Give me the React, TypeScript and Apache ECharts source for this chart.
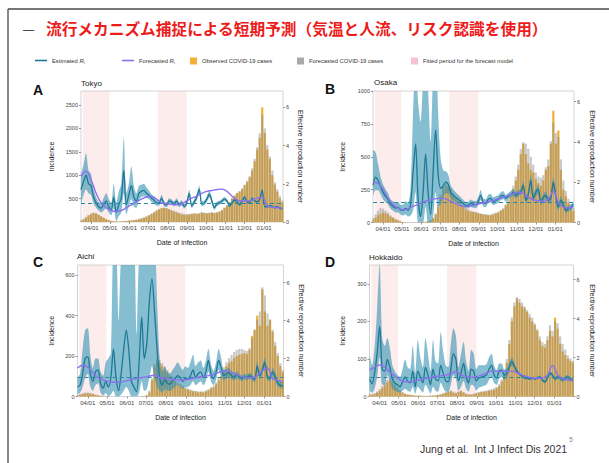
import { useEffect, useRef } from 'react';
import * as echarts from 'echarts';

// ---------- categories (daily dates) ----------
function buildDates(start: string, end: string): string[] {
  const out: string[] = [];
  const d = new Date(start + 'T00:00:00Z');
  const e = new Date(end + 'T00:00:00Z');
  while (d.getTime() <= e.getTime()) {
    out.push(d.toISOString().slice(0, 10));
    d.setUTCDate(d.getUTCDate() + 1);
  }
  return out;
}
const DATES = buildDates('2020-03-16', '2021-01-31');
const STEP = 4; // observations every 4 days
const FC_STEP = 8; // forecasted Rt every 8 days
const FITTED_PERIODS = [
  ['2020-03-19', '2020-04-30'],
  ['2020-07-16', '2020-08-31'],
];

// ---------- Tokyo ----------
const TOKYO_OBS = [20,50,90,140,170,190,180,150,120,90, 60,40,25,15,10,8,10,15,20,25, 30,35,45,55,70,90,110,140,170,200, 240,270,290,300,290,270,240,220,200,180, 160,150,150,160,170,180,170,180,200,190, 180,190,200,190,200,220,250,300,350,420, 500,560,620,650,700,780,850,950,1100,1300, 1550,1800,2450,1900,1550,1350,1000,800,650,500, 420];
const TOKYO_FCST = [40,70,110,150,180,200,190,160,120,90, 60,40,25,18,12,10,12,18,25,30, 35,45,55,70,85,100,125,150,180,215, 250,280,300,310,300,280,260,240,220,200, 185,175,170,175,180,190,185,190,210,200, 195,200,210,200,210,230,260,310,360,430, 510,570,620,660,720,800,880,980,1150,1350, 1600,1900,2300,2000,1650,1400,1100,850,700,560, 460];
const TOKYO_RT = [1.7,2.1,2.45,2.0,1.9,1.3,1.0,0.8,0.73,0.9, 1.1,0.8,0.65,1.3,0.5,0.9,1.25,2.7,0.9,1.4, 1.9,1.3,1.1,1.5,1.6,1.65,1.5,1.4,1.25,1.15, 1.0,1.0,1.25,0.95,0.9,1.1,1.05,0.95,1.1,0.9, 1.0,0.82,1.0,1.5,0.85,1.05,1.3,1.7,0.95,1.0, 1.2,1.45,1.1,0.75,0.95,1.0,1.1,1.2,1.1,0.85, 1.0,1.15,1.05,0.9,1.1,1.3,1.05,1.0,1.25,1.1, 1.05,1.2,1.65,0.8,0.8,0.85,0.8,0.75,0.8,0.72, 0.7];
const TOKYO_RT_LO = [0.9,1.4,1.7,1.5,1.4,0.95,0.75,0.6,0.5,0.6, 0.7,0.5,0.35,0.7,0.05,0.3,0.5,1.5,0.4,0.8, 1.2,0.8,0.75,1.15,1.3,1.35,1.25,1.2,1.05,0.98, 0.85,0.86,1.08,0.82,0.78,0.96,0.92,0.82,0.96,0.78, 0.86,0.7,0.86,1.3,0.72,0.9,1.12,1.5,0.82,0.87, 1.05,1.28,0.96,0.64,0.83,0.89,1.0,1.09,1.0,0.76, 0.91,1.06,0.97,0.83,1.03,1.22,0.98,0.94,1.18,1.04, 0.99,1.13,1.55,0.74,0.74,0.79,0.74,0.69,0.74,0.66, 0.64];
const TOKYO_RT_HI = [2.5,3.0,3.6,2.7,2.5,1.7,1.3,1.05,1.0,1.25, 1.5,1.2,1.0,2.0,1.0,1.6,2.0,4.4,1.5,2.0, 2.9,1.9,1.5,1.9,1.95,2.0,1.8,1.65,1.45,1.32, 1.15,1.14,1.42,1.08,1.02,1.24,1.18,1.08,1.24,1.02, 1.14,0.94,1.14,1.7,0.98,1.2,1.48,1.9,1.08,1.13, 1.35,1.62,1.24,0.86,1.07,1.11,1.2,1.31,1.2,0.94, 1.09,1.24,1.13,0.97,1.17,1.38,1.12,1.06,1.32,1.16, 1.11,1.27,1.75,0.86,0.86,0.91,0.86,0.81,0.86,0.78, 0.76];
const TOKYO_RT_FCST = [2.4,2.65,2.2,1.5,1.0,0.75,0.6,0.55,0.6,0.75, 0.9,1.05,1.2,1.3,1.35,1.2,1.0,0.95,0.92,0.9, 0.95,1.1,1.25,1.35,1.5,1.6,1.65,1.7,1.72,1.6, 1.35,1.15,1.1,1.1,1.15,1.25,1.3,0.85,0.78,0.75, 0.72];

// ---------- Osaka ----------
const OSAKA_OBS = [20,35,55,65,75,70,60,45,35,25, 15,8,4,2,1,1,1,1,2,2, 3,5,8,15,30,60,120,200,260,280, 270,240,210,185,160,140,120,100,90,80, 80,75,70,65,60,60,55,55,60,70, 75,90,100,130,160,200,250,320,400,520, 600,520,450,400,380,330,300,280,320,400, 430,600,850,600,700,400,250,200,150,110, 90];
const OSAKA_FCST = [35,60,90,110,105,90,75,55,40,28, 18,10,5,3,2,1,1,1,2,3, 4,6,10,18,35,70,140,215,270,295, 290,260,225,195,170,150,130,110,100,90, 85,80,75,70,65,65,60,62,68,75, 82,95,110,140,175,220,280,350,440,560, 610,600,560,500,440,380,350,340,360,420, 480,620,760,680,650,480,320,240,180,140, 110];
const OSAKA_RT = [1.85,2.25,2.1,1.8,1.5,1.3,1.15,0.9,0.8,0.72, 0.75,0.62,0.6,0.7,0.6,0.9,2.5,3.9,1.2,0.3, 1.5,3.4,1.5,0.4,2.5,4.6,2.4,1.7,1.8,2.0, 1.9,1.5,1.35,1.25,1.15,1.05,0.95,0.85,0.85,0.95, 0.9,0.88,1.05,1.35,1.0,0.95,1.15,1.2,1.05,1.1, 1.15,1.3,1.35,1.2,1.3,1.4,1.5,1.35,1.45,1.5, 1.85,1.1,1.4,2.1,1.2,1.5,1.65,1.0,1.25,1.35, 1.1,1.2,2.0,1.3,0.75,1.1,0.9,0.6,0.7,0.75, 0.9];
const OSAKA_RT_LO = [1.3,1.6,1.6,1.4,1.15,1.0,0.9,0.68,0.58,0.5, 0.5,0.4,0.35,0.4,0.3,0.35,0.6,1.5,0,0, 0,0.8,0,0,0.3,1.5,0.8,0.9,1.2,1.45, 1.45,1.2,1.1,1.02,0.95,0.87,0.78,0.7,0.7,0.78, 0.73,0.71,0.86,1.1,0.8,0.76,0.95,1.0,0.86,0.92, 0.97,1.1,1.17,1.04,1.14,1.24,1.33,1.2,1.3,1.35, 1.65,0.95,1.22,1.85,1.02,1.3,1.43,0.85,1.07,1.15, 0.93,1.02,1.75,1.1,0.6,0.92,0.74,0.47,0.56,0.6, 0.74];
const OSAKA_RT_HI = [3.6,3.5,2.9,2.3,1.9,1.65,1.45,1.15,1.05,0.97, 1.02,0.88,0.88,1.05,0.98,1.7,5.5,8,6,5, 7,8,6.5,4,7.5,9,5.5,3.2,2.6,2.55, 2.4,1.85,1.65,1.5,1.38,1.25,1.13,1.02,1.02,1.14, 1.08,1.06,1.25,1.62,1.2,1.15,1.38,1.42,1.25,1.3, 1.35,1.5,1.55,1.37,1.47,1.57,1.67,1.5,1.6,1.65, 2.05,1.25,1.58,2.35,1.38,1.7,1.87,1.15,1.43,1.55, 1.27,1.38,2.25,1.5,0.9,1.28,1.06,0.73,0.84,0.9, 1.06];
const OSAKA_RT_FCST = [2.0,1.95,1.65,1.2,0.9,0.72,0.63,0.68,0.8,0.9, 1.02,1.1,1.15,1.2,1.2,1.12,1.0,0.88,0.8,0.8, 0.85,0.92,0.98,1.04,1.1,1.18,1.25,1.35,1.45,1.5, 1.45,1.25,1.12,1.08,1.05,1.15,1.55,1.0,0.75,0.72, 0.8];

// ---------- Aichi ----------
const AICHI_OBS = [5,8,12,15,16,14,12,8,5,3, 2,1,1,0,0,0,0,0,0,0, 0,0,0,0,0,1,2,5,20,80, 150,175,165,150,130,120,100,90,75,60, 55,45,40,35,30,25,25,20,22,20, 25,30,40,45,60,80,100,130,150,165, 175,190,200,205,210,215,210,230,300,330, 400,350,530,420,350,380,320,250,200,150, 120];
const AICHI_FCST = [8,12,16,20,20,18,15,10,7,4, 3,2,1,1,0,0,0,0,0,0, 0,0,0,0,1,2,3,8,30,90, 160,185,180,165,145,130,112,100,85,70, 62,52,46,40,35,30,28,25,26,25, 30,36,46,55,70,92,115,145,170,190, 205,220,230,235,235,230,225,240,290,330, 380,420,540,500,410,380,330,270,215,165, 130];
const AICHI_RT = [0.5,0.6,1.2,2.0,2.1,1.2,0.8,1.3,1.4,0.7, 0.45,0.8,0.5,1.0,2.5,1.0,0.3,1.2,2.5,3.5, 2.4,0.8,0.5,0.25,1.8,4.2,2.0,2.8,5.0,6.2, 4.5,2.5,1.0,0.6,0.9,0.7,0.65,0.8,0.95,1.1, 1.0,0.8,0.95,0.9,1.1,1.4,1.0,1.2,1.3,1.0, 1.3,1.9,1.2,0.95,1.3,1.9,1.5,1.1,1.2,1.25, 1.1,1.0,1.15,1.05,0.95,1.05,1.0,1.1,1.0,0.9, 1.6,1.1,1.4,1.8,1.0,0.95,1.3,1.05,0.7,0.6, 0.55];
const AICHI_RT_LO = [0.1,0.2,0.5,1.0,1.2,0.5,0.3,0.6,0.7,0.2, 0.05,0.2,0,0.1,0.3,0,0,0.1,0.3,0.5, 0.3,0,0,0,0.2,0.8,0.3,0.4,1.0,1.6, 1.0,0.5,0.3,0.2,0.4,0.3,0.3,0.4,0.5,0.6, 0.5,0.4,0.5,0.5,0.6,0.8,0.6,0.7,0.8,0.6, 0.8,1.3,0.8,0.6,0.9,1.4,1.1,0.85,0.95,1.0, 0.9,0.85,0.95,0.9,0.8,0.9,0.85,0.95,0.85,0.75, 1.35,0.9,1.2,1.55,0.85,0.8,1.1,0.85,0.55,0.45, 0.4];
const AICHI_RT_HI = [1.0,1.2,2.5,3.5,3.6,2.2,1.5,2.0,2.0,1.3, 1.1,1.8,2.0,2.3,7.5,7.5,4.0,7.5,8,8, 8,8,8,3.3,7.5,8,8,8,8,8, 8,5.0,2.0,1.3,1.6,1.3,1.2,1.4,1.6,1.8, 1.6,1.4,1.6,1.5,1.8,2.2,1.6,1.8,1.9,1.5, 1.9,2.5,1.7,1.35,1.8,2.5,2.0,1.4,1.45,1.5, 1.3,1.2,1.35,1.2,1.1,1.2,1.15,1.25,1.15,1.05, 1.85,1.3,1.6,2.05,1.15,1.1,1.5,1.25,0.9,0.8, 0.75];
const AICHI_RT_FCST = [1.5,1.65,1.55,1.25,1.0,0.88,0.8,0.75,0.75,0.8, 0.86,0.92,0.98,1.02,1.08,1.12,1.0,0.95,0.9,0.88, 0.87,0.88,0.92,0.98,1.05,1.08,1.12,1.22,1.32,1.35, 1.28,1.15,1.05,1.0,0.98,1.1,1.35,1.5,0.95,0.85, 0.8];

// ---------- Hokkaido ----------
const HOKKAIDO_OBS = [5,4,6,10,15,22,30,38,42,38, 30,22,15,10,7,5,4,3,2,2, 2,1,1,1,2,2,3,4,5,7, 10,12,14,10,8,12,15,10,6,5, 4,6,8,10,12,12,14,15,16,18, 22,28,40,60,90,140,200,240,260,250, 240,235,225,210,200,190,175,150,135,130, 150,175,160,210,180,140,120,110,100,95, 90];
const HOKKAIDO_FCST = [8,7,9,13,20,28,36,44,48,44, 35,26,18,12,8,6,5,4,3,3, 3,2,2,2,3,3,4,5,7,9, 12,14,16,13,10,13,16,12,8,7, 6,8,10,12,14,15,16,18,20,22, 26,33,46,68,100,150,210,250,265,260, 250,240,230,220,210,195,180,160,145,140, 160,190,175,200,195,160,140,125,110,102, 95];
const HOKKAIDO_RT = [0.9,0.65,1.2,2.2,3.6,1.4,1.3,1.9,1.5,0.9, 0.7,0.6,0.5,0.75,1.0,0.8,0.7,1.3,0.5,1.3, 1.0,0.7,1.5,1.1,0.6,1.4,0.9,0.8,1.6,1.2, 0.8,0.75,1.4,2.2,1.9,0.8,1.2,1.7,1.0,0.7, 1.4,1.3,0.8,0.95,1.0,1.05,1.1,1.4,1.6,1.1, 0.95,1.3,1.35,1.1,1.2,1.5,1.8,1.55,1.3,1.15, 1.05,0.95,0.95,0.9,0.95,0.9,0.95,1.0,0.85,0.75, 0.95,1.2,1.1,0.9,1.0,0.95,0.85,0.95,1.0,0.9, 0.85];
const HOKKAIDO_RT_LO = [0.3,0.2,0.4,1.0,2.0,0.6,0.6,1.1,0.8,0.4, 0.3,0.25,0.2,0.3,0.4,0.3,0.25,0.5,0.15,0.5, 0.35,0.2,0.6,0.4,0.15,0.5,0.3,0.25,0.7,0.45, 0.25,0.25,0.6,1.1,0.9,0.3,0.5,0.8,0.4,0.25, 0.6,0.55,0.3,0.45,0.5,0.55,0.6,0.85,1.0,0.7, 0.6,0.9,1.0,0.85,0.95,1.3,1.6,1.4,1.2,1.07, 0.97,0.88,0.88,0.83,0.88,0.83,0.87,0.92,0.77,0.67, 0.86,1.1,1.0,0.8,0.9,0.85,0.75,0.85,0.9,0.8, 0.75];
const HOKKAIDO_RT_HI = [2.2,1.6,2.5,4.5,6.8,3.0,2.6,3.0,2.5,1.6, 1.3,1.1,1.0,1.4,1.9,1.5,1.4,2.6,1.2,2.9, 2.0,1.5,3.0,2.2,1.3,2.9,1.8,1.7,3.3,2.3, 1.6,1.5,2.7,3.5,3.1,1.5,2.2,2.8,1.8,1.3, 2.4,2.2,1.4,1.6,1.6,1.6,1.65,2.0,2.2,1.6, 1.35,1.7,1.7,1.4,1.45,1.75,2.0,1.7,1.4,1.25, 1.13,1.03,1.02,0.97,1.02,0.97,1.03,1.08,0.93,0.83, 1.04,1.3,1.2,1.0,1.1,1.05,0.95,1.05,1.1,1.0, 0.95];
const HOKKAIDO_RT_FCST = [1.35,1.5,1.62,1.5,1.25,1.05,0.85,0.75,0.75,0.8, 0.86,0.92,0.98,1.03,1.06,1.1,1.18,1.28,1.1,1.03, 0.98,1.02,1.1,1.2,1.3,1.3,1.28,1.28,1.3,1.22, 1.1,1.02,0.95,0.94,0.95,1.1,1.6,1.1,0.9,0.85, 0.82];

// ---------- axis scales ----------
const PANEL_NAMES = ['Tokyo', 'Osaka', 'Aichi', 'Hokkaido'];
const PANEL_LETTERS = ['A', 'B', 'C', 'D'];
const INC_MAX = [2800, 1000, 650, 350];
const INC_STEP = [500, 250, 200, 100];
const RT_MAX = [6.85, 6.53, 6.93, 6.75];
const RT_STEP = 2;
const RT_THRESHOLD = 1;

const PANELS = [
  { obs: TOKYO_OBS, fcst: TOKYO_FCST, rt: TOKYO_RT, lo: TOKYO_RT_LO, hi: TOKYO_RT_HI, rtf: TOKYO_RT_FCST },
  { obs: OSAKA_OBS, fcst: OSAKA_FCST, rt: OSAKA_RT, lo: OSAKA_RT_LO, hi: OSAKA_RT_HI, rtf: OSAKA_RT_FCST },
  { obs: AICHI_OBS, fcst: AICHI_FCST, rt: AICHI_RT, lo: AICHI_RT_LO, hi: AICHI_RT_HI, rtf: AICHI_RT_FCST },
  { obs: HOKKAIDO_OBS, fcst: HOKKAIDO_FCST, rt: HOKKAIDO_RT, lo: HOKKAIDO_RT_LO, hi: HOKKAIDO_RT_HI, rtf: HOKKAIDO_RT_FCST },
];

// ---------- layout (positions / styles only) ----------
const LAYOUT = [
  { left: 81, top: 91, width: 202, height: 131, incGap: 26.5, rtGap: 13.5, letterX: 33, letterY: 83, nameX: 81, nameY: 79 },
  { left: 373, top: 91, width: 201, height: 131.5, incGap: 27.5, rtGap: 15, letterX: 325, letterY: 82, nameX: 374, nameY: 78 },
  { left: 77.5, top: 265, width: 206, height: 131.5, incGap: 23, rtGap: 14, letterX: 33, letterY: 255, nameX: 77, nameY: 252 },
  { left: 369.5, top: 265, width: 204, height: 131.5, incGap: 23.5, rtGap: 15.5, letterX: 325, letterY: 255, nameX: 369, nameY: 253 },
];

const FONT = "'Liberation Sans', Arial, Helvetica, sans-serif";
const C_OBS = '#f2b134';
const C_FCST = 'rgba(135,135,135,0.45)';
const C_RT = '#1e7896';
const C_BAND = 'rgba(52,146,178,0.6)';
const C_RTF = '#8d70f0';
const C_PINK = 'rgba(246,200,200,0.34)';

const TITLE = '流行メカニズム捕捉による短期予測（気温と人流、リスク認識を使用）';

const pairs = (arr: number[], step: number) => arr.map((v, i) => [i * step, v]);
const isMonthStart = (_i: number, v: string) => typeof v === 'string' && v.slice(8, 10) === '01';
const fmtDate = (v: string) => v.slice(5, 7) + '/' + v.slice(8, 10);
const fmtNum = (v: number) => String(v);

function buildOption() {
  const grid: any[] = [];
  const xAxis: any[] = [];
  const yAxis: any[] = [];
  const series: any[] = [];
  const tickStyle = { color: '#555', width: 0.6 };

  PANELS.forEach((p, i) => {
    const L = LAYOUT[i];
    grid.push({
      left: L.left, top: L.top, width: L.width, height: L.height,
      show: true, borderColor: '#c9c9c9', borderWidth: 0.8, backgroundColor: 'transparent',
      outerBoundsMode: 'none', containLabel: false,
    });
    xAxis.push({
      type: 'category', gridIndex: i, data: DATES, boundaryGap: false,
      axisLine: { show: false },
      axisTick: { show: true, interval: isMonthStart, length: 2, lineStyle: tickStyle },
      axisLabel: { interval: isMonthStart, formatter: fmtDate, fontSize: 6, color: '#444', margin: 3, fontFamily: FONT },
      splitLine: { show: false },
      name: 'Date of infection', nameLocation: 'middle', nameGap: 17,
      nameTextStyle: { fontSize: 7, color: '#222', fontFamily: FONT },
    });
    yAxis.push({
      type: 'value', gridIndex: i, position: 'left', min: 0, max: INC_MAX[i], interval: INC_STEP[i],
      axisLine: { show: false },
      axisTick: { show: true, length: 2, lineStyle: tickStyle },
      axisLabel: {
        fontSize: 5.5, color: '#444', margin: 3, fontFamily: FONT, formatter: fmtNum,
        showMaxLabel: INC_MAX[i] % INC_STEP[i] === 0, showMinLabel: i !== 0,
      },
      splitLine: { show: false },
      name: 'Incidence', nameLocation: 'middle', nameRotate: 90, nameGap: L.incGap,
      nameTextStyle: { fontSize: 7, color: '#222', fontFamily: FONT },
    });
    yAxis.push({
      type: 'value', gridIndex: i, position: 'right', min: 0, max: RT_MAX[i], interval: RT_STEP,
      axisLine: { show: false },
      axisTick: { show: true, length: 2, lineStyle: tickStyle },
      axisLabel: { fontSize: 5.5, color: '#444', margin: 3, fontFamily: FONT, formatter: fmtNum, showMaxLabel: false },
      splitLine: { show: false },
      name: 'Effective reproduction number', nameLocation: 'middle', nameRotate: -90, nameGap: L.rtGap,
      nameTextStyle: { fontSize: 7, color: '#222', fontFamily: FONT },
    });

    const yl = 2 * i;
    const yr = 2 * i + 1;
    // background series holding the fitted-period shading (drawn first, lowest z)
    series.push({
      type: 'line', name: 'fitted-' + i, xAxisIndex: i, yAxisIndex: yr,
      data: pairs(p.lo, STEP), showSymbol: false, lineStyle: { opacity: 0, width: 0 }, silent: true, z: 0,
      markArea: {
        silent: true, z: 0, itemStyle: { color: C_PINK },
        data: FITTED_PERIODS.map(([a, b]) => [{ xAxis: a }, { xAxis: b }]),
      },
    });
    series.push({
      type: 'bar', name: 'Observed COVID-19 cases', xAxisIndex: i, yAxisIndex: yl,
      data: pairs(p.obs, STEP), barWidth: 2.2, barGap: '-100%',
      itemStyle: { color: C_OBS }, silent: true, z: 2,
    });
    series.push({
      type: 'bar', name: 'Forecasted COVID-19 cases', xAxisIndex: i, yAxisIndex: yl,
      data: pairs(p.fcst, STEP), barWidth: 2.2, barGap: '-100%',
      itemStyle: { color: C_FCST }, silent: true, z: 2,
    });
    series.push({
      type: 'line', name: 'ci-lower-' + i, xAxisIndex: i, yAxisIndex: yr, stack: 'ci' + i,
      data: pairs(p.lo, STEP), showSymbol: false, smooth: 0.3,
      lineStyle: { opacity: 0, width: 0 }, silent: true, z: 3,
    });
    series.push({
      type: 'line', name: 'ci-band-' + i, xAxisIndex: i, yAxisIndex: yr, stack: 'ci' + i,
      data: p.hi.map((h, k) => [k * STEP, +(h - p.lo[k]).toFixed(3)]), showSymbol: false, smooth: 0.3,
      lineStyle: { opacity: 0, width: 0 }, areaStyle: { color: C_BAND, opacity: 1 }, silent: true, z: 3,
    });
    series.push({
      type: 'line', name: 'Estimated R_t', xAxisIndex: i, yAxisIndex: yr,
      data: pairs(p.rt, STEP), showSymbol: false, smooth: 0.3, color: C_RT,
      lineStyle: { color: C_RT, width: 1.3 }, silent: true, z: 4,
      markLine: {
        silent: true, symbol: ['none', 'none'], label: { show: false },
        lineStyle: { type: [4, 3], color: '#2b88a4', width: 1 },
        data: [{ yAxis: RT_THRESHOLD }],
      },
    });
    series.push({
      type: 'line', name: 'Forecasted R_t', xAxisIndex: i, yAxisIndex: yr,
      data: pairs(p.rtf, FC_STEP), showSymbol: false, smooth: 0.4, color: C_RTF,
      lineStyle: { color: C_RTF, width: 1.4 }, silent: true, z: 5,
    });
  });

  series.push({
    type: 'line', name: 'Fitted period for the forecast model', xAxisIndex: 0, yAxisIndex: 0,
    data: [], color: '#f6c2d3', silent: true,
  });

  const LEGEND_ITEMS = [
    { name: 'Estimated R_t', left: 35, w: 12, h: 1.6, color: C_RT },
    { name: 'Forecasted R_t', left: 122, w: 12, h: 1.6, color: C_RTF },
    { name: 'Observed COVID-19 cases', left: 190, w: 7, h: 7, color: C_OBS },
    { name: 'Forecasted COVID-19 cases', left: 297, w: 7, h: 7, color: '#a9a9a9' },
    { name: 'Fitted period for the forecast model', left: 411, w: 7, h: 7, color: '#f6c2d3' },
  ];
  const legend = LEGEND_ITEMS.map((it) => ({
    left: it.left, top: 57.5, padding: 0, itemWidth: it.w, itemHeight: it.h, itemGap: 0,
    selectedMode: false,
    data: [{ name: it.name, icon: 'rect', itemStyle: { color: it.color, borderWidth: 0 } }],
    formatter: (n: string) => (n.endsWith(' R_t') ? n.slice(0, -4) + ' {i|R}{s|t}' : n),
    textStyle: {
      fontSize: 5.8, color: '#333', fontFamily: FONT,
      rich: {
        i: { fontSize: 5.8, fontStyle: 'italic', color: '#333', fontFamily: FONT },
        s: { fontSize: 4, color: '#333', fontFamily: FONT, padding: [3, 0, 0, 0] },
      },
    },
  }));

  const title: any[] = [
    { text: '—', left: 23, top: 23, padding: 0, textStyle: { fontSize: 11, fontWeight: 'normal', color: '#222', fontFamily: FONT } },
    { text: TITLE, left: 46, top: 21, padding: 0, textStyle: { fontSize: 15.7, fontWeight: 'bold', color: '#ee1b1b', fontFamily: "'Noto Sans CJK JP', sans-serif" } },
  ];
  LAYOUT.forEach((L, i) => {
    title.push({ text: PANEL_LETTERS[i], left: L.letterX, top: L.letterY, padding: 0, textStyle: { fontSize: 14, fontWeight: 'bold', color: '#111', fontFamily: FONT } });
    title.push({ text: PANEL_NAMES[i], left: L.nameX, top: L.nameY, padding: 0, textStyle: { fontSize: 8, fontWeight: 'normal', color: '#222', fontFamily: FONT } });
  });

  const graphic = [
    { type: 'line', silent: true, shape: { x1: 8, y1: 9, x2: 609, y2: 9 }, style: { stroke: '#4a4a4a', lineWidth: 1.3 } },
    { type: 'line', silent: true, shape: { x1: 8, y1: 9, x2: 8, y2: 463 }, style: { stroke: '#4a4a4a', lineWidth: 1.3 } },
    { type: 'text', left: 420, top: 443, silent: true, style: { text: 'Jung et al.  Int J Infect Dis 2021', fontSize: 10.5, fill: '#333', fontFamily: FONT } },
    { type: 'text', left: 569, top: 436, silent: true, style: { text: '5', fontSize: 7, fill: '#888', fontFamily: FONT } },
  ];

  return {
    animation: false,
    backgroundColor: '#ffffff',
    textStyle: { fontFamily: FONT },
    title, legend, grid, xAxis, yAxis, series, graphic,
  };
}

export default function App() {
  const ref = useRef<HTMLDivElement>(null);
  useEffect(() => {
    document.body.style.margin = '0';
    if (!ref.current) return;
    const chart = echarts.init(ref.current, null, { renderer: 'svg' });
    chart.setOption(buildOption() as any);
    return () => chart.dispose();
  }, []);
  return <div ref={ref} style={{ width: 609, height: 463 }} />;
}
